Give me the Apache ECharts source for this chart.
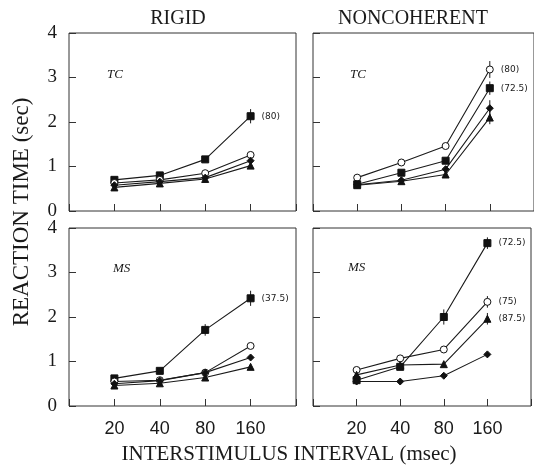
<!DOCTYPE html>
<html lang="en">
<head>
    <meta charset="UTF-8">
    <title>Reaction time</title>
    <script src="https://cdn.jsdelivr.net/npm/echarts@6/dist/echarts.min.js"></script>
    <style>
        html, body { margin: 0; padding: 0; background: #fff; }
        #chart { width: 534px; height: 476px; }
    </style>
</head>
<body>
<div id="chart"></div>

<script>
    // x categories (interstimulus interval, msec)
    var xTicks = ['20', '40', '80', '160'];

    // RIGID, TC
    var rTcSquare   = [0.70, 0.80, 1.16, 2.13];
    var rTcCircle   = [0.63, 0.70, 0.85, 1.26];
    var rTcDiamond  = [0.58, 0.66, 0.75, 1.13];
    var rTcTriangle = [0.53, 0.62, 0.72, 1.02];
    var rTcErr   = [['square', 3, 0.16]];
    var rTcNotes = [['square', '(80)']];

    // NONCOHERENT, TC
    var nTcCircle   = [0.75, 1.09, 1.46, 3.18];
    var nTcSquare   = [0.60, 0.86, 1.13, 2.76];
    var nTcDiamond  = [0.59, 0.69, 0.94, 2.31];
    var nTcTriangle = [0.58, 0.67, 0.82, 2.10];
    var nTcErr   = [['circle', 3, 0.19], ['square', 3, 0.15], ['diamond', 3, 0.18], ['triangle', 3, 0.15], ['circle', 1, 0.05], ['circle', 2, 0.05]];
    var nTcNotes = [['circle', '(80)'], ['square', '(72.5)']];

    // RIGID, MS
    var rMsSquare   = [0.62, 0.79, 1.71, 2.42];
    var rMsCircle   = [0.55, 0.58, 0.75, 1.35];
    var rMsDiamond  = [0.50, 0.57, 0.75, 1.09];
    var rMsTriangle = [0.46, 0.51, 0.64, 0.88];
    var rMsErr   = [['square', 2, 0.13], ['square', 3, 0.17]];
    var rMsNotes = [['square', '(37.5)']];

    // NONCOHERENT, MS
    var nMsSquare   = [0.58, 0.88, 2.00, 3.66];
    var nMsCircle   = [0.81, 1.07, 1.27, 2.34];
    var nMsTriangle = [0.70, 0.92, 0.94, 1.96];
    var nMsDiamond  = [0.55, 0.55, 0.68, 1.16];
    var nMsErr   = [['square', 3, 0.13], ['square', 2, 0.17], ['circle', 3, 0.13], ['triangle', 3, 0.13]];
    var nMsNotes = [['square', '(72.5)'], ['circle', '(75)'], ['triangle', '(87.5)']];

    var panels = [
        {lines: {square: rTcSquare, circle: rTcCircle, diamond: rTcDiamond, triangle: rTcTriangle}, errs: rTcErr, notes: rTcNotes, tag: 'TC'},
        {lines: {circle: nTcCircle, square: nTcSquare, diamond: nTcDiamond, triangle: nTcTriangle}, errs: nTcErr, notes: nTcNotes, tag: 'TC'},
        {lines: {square: rMsSquare, circle: rMsCircle, diamond: rMsDiamond, triangle: rMsTriangle}, errs: rMsErr, notes: rMsNotes, tag: 'MS'},
        {lines: {square: nMsSquare, circle: nMsCircle, triangle: nMsTriangle, diamond: nMsDiamond}, errs: nMsErr, notes: nMsNotes, tag: 'MS'}
    ];

    var markers = {
        square:   {symbol: 'rect', size: 7, fill: '#111'},
        circle:   {symbol: 'circle', size: 7, fill: '#fff'},
        diamond:  {symbol: 'diamond', size: 7, fill: '#111'},
        triangle: {symbol: 'triangle', size: 7, fill: '#111'}
    };

    var ink = '#1a1a1a';
    var serif = 'Liberation Serif';

    var grids = [
        {left: 69, top: 33, width: 227, height: 178},
        {left: 313, top: 33, width: 227, height: 178},
        {left: 69, top: 228, width: 227, height: 178},
        {left: 313, top: 228, width: 227, height: 178}
    ];

    var xAxes = [], yAxes = [], series = [];
    grids.forEach(function (g, i) {
        g.show = true;
        g.borderColor = '#333';
        g.borderWidth = 1;
        g.backgroundColor = 'transparent';
        xAxes.push({
            type: 'value', gridIndex: i, min: 0, max: 5, interval: 1,
            axisLine: {show: false},
            splitLine: {show: false},
            axisTick: {show: true, inside: true, length: 7, lineStyle: {color: '#333'}},
            axisLabel: {
                show: i >= 2, margin: 14, fontSize: 18, color: ink,
                fontFamily: 'Liberation Sans',
                formatter: function (v) { return xTicks[v - 1] || ''; }
            }
        });
        yAxes.push({
            type: 'value', gridIndex: i, min: 0, max: 4, interval: 1,
            axisLine: {show: false},
            splitLine: {show: false},
            axisTick: {show: true, inside: true, length: 7, lineStyle: {color: '#333'}},
            axisLabel: {show: i % 2 === 0, margin: 12, fontSize: 19, color: ink, fontFamily: serif}
        });
    });

    panels.forEach(function (p, gi) {
        Object.keys(p.lines).forEach(function (name) {
            var vals = p.lines[name];
            var m = markers[name];
            var note = null;
            p.notes.forEach(function (n) { if (n[0] === name) note = n[1]; });
            var data = vals.map(function (v, i) {
                var item = {value: [i + 1, v]};
                if (note && i === vals.length - 1) {
                    item.label = {
                        show: true, position: 'right', distance: 7,
                        formatter: note, fontSize: 9, color: ink,
                        fontFamily: 'DejaVu Sans'
                    };
                }
                return item;
            });
            series.push({
                type: 'line', name: name, xAxisIndex: gi, yAxisIndex: gi,
                data: data, symbol: m.symbol, symbolSize: m.size,
                showAllSymbol: true,
                itemStyle: {color: m.fill, borderColor: '#111', borderWidth: 1},
                lineStyle: {color: ink, width: 1.1},
                z: 3
            });
        });
        series.push({
            type: 'custom', xAxisIndex: gi, yAxisIndex: gi, z: 2,
            data: p.errs.map(function (e) {
                var v = p.lines[e[0]][e[1]];
                return [e[1] + 1, v - e[2], v + e[2]];
            }),
            renderItem: function (params, api) {
                var a = api.coord([api.value(0), api.value(1)]);
                var b = api.coord([api.value(0), api.value(2)]);
                return {
                    type: 'line',
                    shape: {x1: a[0], y1: a[1], x2: b[0], y2: b[1]},
                    style: {stroke: ink, lineWidth: 1}
                };
            }
        });
    });

    var tagPos = [[107, 75], [350, 75], [113, 269], [348, 268]];
    var graphics = [
        {type: 'text', x: 178, y: 19, style: {text: 'RIGID', font: '20px ' + serif, fill: ink, textAlign: 'center', textVerticalAlign: 'middle'}},
        {type: 'text', x: 413, y: 19, style: {text: 'NONCOHERENT', font: '20px ' + serif, fill: ink, textAlign: 'center', textVerticalAlign: 'middle'}},
        {type: 'text', x: 289, y: 454, style: {text: 'INTERSTIMULUS INTERVAL (msec)', font: '21px ' + serif, fill: ink, textAlign: 'center', textVerticalAlign: 'middle'}},
        {type: 'text', x: 22, y: 212, rotation: Math.PI / 2, style: {text: 'REACTION TIME (sec)', font: '23px ' + serif, fill: ink, textAlign: 'center', textVerticalAlign: 'middle'}}
    ];
    panels.forEach(function (p, i) {
        graphics.push({type: 'text', x: tagPos[i][0], y: tagPos[i][1],
            style: {text: p.tag, font: 'italic 13px ' + serif, fill: ink, textVerticalAlign: 'middle'}});
    });

    var myChart = echarts.init(document.getElementById('chart'));
    myChart.setOption({
        animation: false,
        backgroundColor: '#fff',
        grid: grids,
        xAxis: xAxes,
        yAxis: yAxes,
        series: series,
        graphic: graphics
    });
</script>
</body>
</html>
